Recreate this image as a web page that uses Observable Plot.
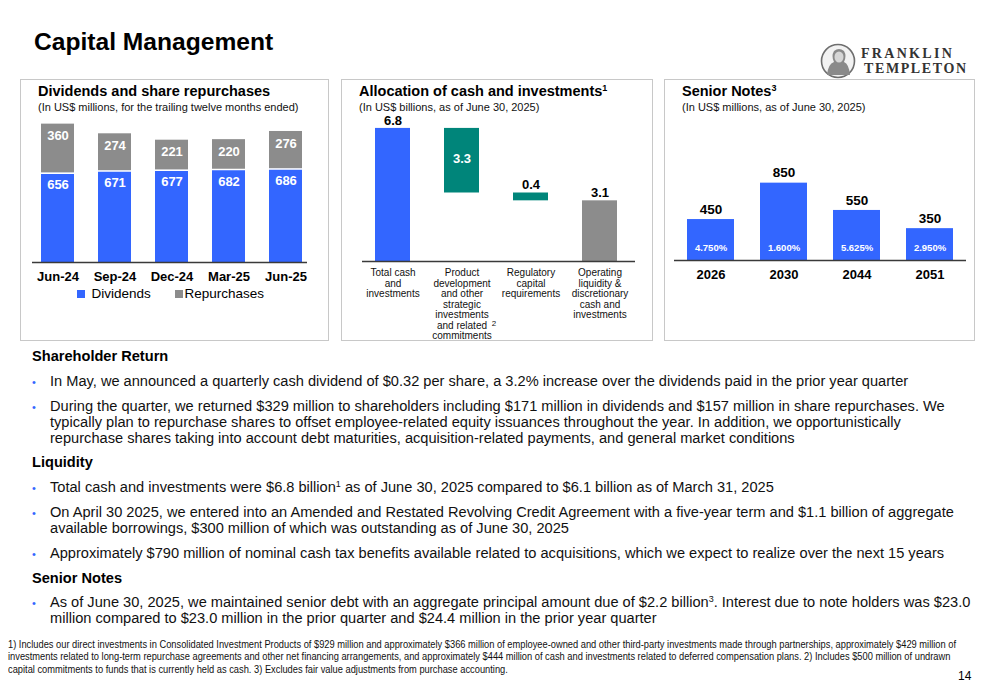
<!DOCTYPE html>
<html>
<head>
<meta charset="utf-8">
<script src="https://cdn.jsdelivr.net/npm/d3@7"></script>
<script src="https://cdn.jsdelivr.net/npm/@observablehq/plot@0.6"></script>
<style>
  html, body { margin: 0; padding: 0; background: #fff; }
  #page { position: relative; width: 1000px; height: 685px; overflow: hidden; font-family: "Liberation Sans", Arial, sans-serif; color: #000; }
  .abs { position: absolute; white-space: nowrap; }
  .panel { position: absolute; border: 1px solid #c8c8c8; box-sizing: border-box; }
  .ptitle { font-size: 14.5px; font-weight: bold; line-height: 14.5px; }
  .psub { font-size: 11px; line-height: 11px; color: #111; }
  .sup { font-size: 9px; vertical-align: 5px; line-height: 0; }
  .head { font-size: 14.6px; font-weight: bold; line-height: 15.8px; }
  .bul { font-size: 14.62px; line-height: 15.8px; color: #111; }
  .dot { position: absolute; color: #3366ff; font-size: 11px; }
  .foot { font-size: 10.4px; line-height: 12.5px; color: #111; transform-origin: 0 0; }
  .foot span { display: inline-block; }
  .chart { position: absolute; }
  .chart svg { overflow: visible; }
</style>
</head>
<body>
<div id="page">
  <div class="abs" style="left:34px; top:30px; font-size:24.6px; line-height:24.6px; font-weight:bold;">Capital Management</div>

  <!-- logo -->
  <svg class="abs" style="left:818px; top:42px;" width="160" height="40">
    <circle cx="20" cy="19" r="16.5" fill="#f2f2f2" stroke="#6e6e6e" stroke-width="1.6"/>
    <path d="M9,33 Q10,22 16,20 Q13,14 16,9 Q21,5 26,9 Q29,14 26,20 Q31,22 32,33 Z" fill="#8a8a8a"/>
    <ellipse cx="21" cy="15" rx="4.5" ry="5.5" fill="#d6d6d6"/>
    <text x="43" y="15.5" font-family="Liberation Serif, serif" font-weight="bold" font-size="14" fill="#333" letter-spacing="2.3">FRANKLIN</text>
    <text x="46" y="31" font-family="Liberation Serif, serif" font-weight="bold" font-size="14" fill="#333" letter-spacing="1.6">TEMPLETON</text>
  </svg>

  <!-- panels -->
  <div class="panel" style="left:20px; top:79px; width:309px; height:262px;"></div>
  <div class="panel" style="left:341px; top:79px; width:312px; height:262px;"></div>
  <div class="panel" style="left:664px; top:79px; width:311px; height:262px;"></div>

  <div class="abs ptitle" style="left:38px; top:83.7px;">Dividends and share repurchases</div>
  <div class="abs psub" style="left:38px; top:101.7px;">(In US$ millions, for the trailing twelve months ended)</div>

  <div class="abs ptitle" style="left:359px; top:83.7px;">Allocation of cash and investments<span class="sup">1</span></div>
  <div class="abs psub" style="left:359px; top:101.7px;">(In US$ billions, as of June 30, 2025)</div>

  <div class="abs ptitle" style="left:682px; top:83.7px;">Senior Notes<span class="sup">3</span></div>
  <div class="abs psub" style="left:682px; top:101.7px;">(In US$ millions, as of June 30, 2025)</div>

  <div id="c1" class="chart" style="left:22px; top:110px;"></div>
  <div id="c2" class="chart" style="left:341px; top:110px;"></div>
  <div id="c3" class="chart" style="left:664px; top:140px;"></div>

  <!-- legend chart 1 -->
  <div id="legend1"></div>

  <!-- body text -->
  <div class="abs head" style="left:32px; top:349.1px;">Shareholder Return</div>
  <div class="dot" style="left:32px; top:376px;">•</div>
  <div class="abs bul" style="left:50px; top:374.1px;">In May, we announced a quarterly cash dividend of $0.32 per share, a 3.2% increase over the dividends paid in the prior year quarter</div>
  <div class="dot" style="left:32px; top:401px;">•</div>
  <div class="abs bul" style="left:50px; top:399.1px;">During the quarter, we returned $329 million to shareholders including $171 million in dividends and $157 million in share repurchases. We<br>typically plan to repurchase shares to offset employee-related equity issuances throughout the year. In addition, we opportunistically<br>repurchase shares taking into account debt maturities, acquisition-related payments, and general market conditions</div>

  <div class="abs head" style="left:32px; top:455.1px;">Liquidity</div>
  <div class="dot" style="left:32px; top:482px;">•</div>
  <div class="abs bul" style="left:50px; top:480.1px;">Total cash and investments were $6.8 billion<span class="sup">1</span> as of June 30, 2025 compared to $6.1 billion as of March 31, 2025</div>
  <div class="dot" style="left:32px; top:507px;">•</div>
  <div class="abs bul" style="left:50px; top:505.1px;">On April 30 2025, we entered into an Amended and Restated Revolving Credit Agreement with a five-year term and $1.1 billion of aggregate<br>available borrowings, $300 million of which was outstanding as of June 30, 2025</div>
  <div class="dot" style="left:32px; top:548px;">•</div>
  <div class="abs bul" style="left:50px; top:546.1px;">Approximately $790 million of nominal cash tax benefits available related to acquisitions, which we expect to realize over the next 15 years</div>

  <div class="abs head" style="left:32px; top:571.1px;">Senior Notes</div>
  <div class="dot" style="left:32px; top:597px;">•</div>
  <div class="abs bul" style="left:50px; top:595.1px;">As of June 30, 2025, we maintained senior debt with an aggregate principal amount due of $2.2 billion<span class="sup">3</span>. Interest due to note holders was $23.0<br>million compared to $23.0 million in the prior quarter and $24.4 million in the prior year quarter</div>

  <div id="foot" class="abs foot" style="left:8px; top:638.6px;"><span id="foot1">1) Includes our direct investments in Consolidated Investment Products of $929 million and approximately $366 million of employee-owned and other third-party investments made through partnerships, approximately $429 million of</span><br><span>investments related to long-term repurchase agreements and other net financing arrangements, and approximately $444 million of cash and investments related to deferred compensation plans. 2) Includes $500 million of undrawn</span><br><span>capital commitments to funds that is currently held as cash. 3) Excludes fair value adjustments from purchase accounting.</span></div>
  <div class="abs" style="left:958px; top:669.8px; font-size:12px; line-height:12px;">14</div>
</div>

<script>
// ---------------- data ----------------
const divPeriods = ["Jun-24", "Sep-24", "Dec-24", "Mar-25", "Jun-25"];
const dividends = [656, 671, 677, 682, 686];
const repurchases = [360, 274, 221, 220, 276];
const divSeries = ["Dividends", "Repurchases"];

const allocCategories = [
  "Total cash\nand\ninvestments",
  "Product\ndevelopment\nand other\nstrategic\ninvestments\nand related\ncommitments",
  "Regulatory\ncapital\nrequirements",
  "Operating\nliquidity &\ndiscretionary\ncash and\ninvestments"
];
const allocValues = [6.8, 3.3, 0.4, 3.1];
const allocKinds = ["total", "step", "step", "total"];
const allocGroups = ["Total", "Allocated", "Allocated", "Remaining"];
const allocFootnoteMark = "2";

const noteYears = ["2026", "2030", "2044", "2051"];
const noteAmounts = [450, 850, 550, 350];
const noteRates = ["4.750%", "1.600%", "5.625%", "2.950%"];

// ---------------- styling ----------------
const BLUE = "#3366ff";
const GRAY = "#8c8c8c";
const TEAL = "#00857a";
const FONT = "Liberation Sans, Arial, sans-serif";
const AXIS = "#3a3a3a";

// condense footnote block to the slide width (narrow font look)
(function () {
  const f = document.getElementById("foot");
  const w = document.getElementById("foot1").getBoundingClientRect().width;
  const target = 948;
  if (w > 0) f.style.transform = `scaleX(${(target / w).toFixed(4)})`;
})();

// ---------------- chart 1 ----------------
const divRows = divPeriods.map((p, i) => ({period: p, series: divSeries[0], value: dividends[i]}));
const repRows = divPeriods.map((p, i) => ({period: p, series: divSeries[1], value: repurchases[i], total: dividends[i] + repurchases[i]}));

const c1 = Plot.plot({
  width: 306, height: 175,
  marginLeft: 10, marginRight: 21, marginTop: 9, marginBottom: 23,
  style: {fontFamily: FONT, overflow: "visible", background: "transparent"},
  x: {domain: divPeriods, paddingInner: 0.417, paddingOuter: 0.119, align: 0.66, label: null},
  y: {domain: [0, 1050], axis: null},
  color: {domain: divSeries, range: [BLUE, GRAY]},
  marks: [
    Plot.barY([...divRows, ...repRows], {x: "period", y: "value", fill: "series"}),
    Plot.tickY(divRows, {x: "period", y: "value", stroke: "white", strokeWidth: 1.5}),
    Plot.ruleY([0], {stroke: AXIS, strokeWidth: 1.5}),
    Plot.text(divRows, {x: "period", y: "value", text: d => String(d.value), dy: 12, fill: "white", fontWeight: "bold", fontSize: 13}),
    Plot.text(repRows, {x: "period", y: "total", text: d => String(d.value), dy: 12, fill: "white", fontWeight: "bold", fontSize: 13}),
    Plot.axisX({tickSize: 0, tickPadding: 9, fontSize: 13, fontWeight: "bold", fill: "#000", label: null})
  ]
});
document.getElementById("c1").append(c1);

// legend for chart 1
const legend = document.getElementById("legend1");
const legendItems = [
  {name: divSeries[0], color: BLUE, sx: 77, tx: 91.5},
  {name: divSeries[1], color: GRAY, sx: 175, tx: 184.5}
];
legendItems.forEach(it => {
  const sw = document.createElement("div");
  sw.style.cssText = `position:absolute;left:${it.sx}px;top:290px;width:7.5px;height:7.5px;background:${it.color};`;
  const tx = document.createElement("div");
  tx.className = "abs";
  tx.style.cssText = `left:${it.tx}px;top:286.6px;font-size:13.5px;line-height:13.5px;`;
  tx.textContent = it.name;
  legend.append(sw, tx);
});

// ---------------- chart 2 (waterfall) ----------------
let running = 0;
const allocRows = allocCategories.map((c, i) => {
  let y1, y2;
  if (allocKinds[i] === "total") { y1 = 0; y2 = allocValues[i]; running = allocValues[i]; }
  else { y2 = running; y1 = running - allocValues[i]; running = y1; }
  return {cat: c, value: allocValues[i], y1, y2, group: allocGroups[i], mid: (y1 + y2) / 2};
});
const insideRows = allocRows.filter(d => d.y2 - d.y1 > 2 && d.group === "Allocated");
const aboveRows = allocRows.filter(d => !insideRows.includes(d));

const c2 = Plot.plot({
  width: 311, height: 232,
  marginLeft: 21, marginRight: 17, marginTop: 14, marginBottom: 81,
  style: {fontFamily: FONT, overflow: "visible", background: "transparent"},
  x: {domain: allocCategories, paddingInner: 0.4977, paddingOuter: 0.208, align: 0.41, label: null},
  y: {domain: [0, 7], axis: null},
  color: {domain: ["Total", "Allocated", "Remaining"], range: [BLUE, TEAL, GRAY]},
  marks: [
    Plot.barY(allocRows, {x: "cat", y1: "y1", y2: "y2", fill: "group"}),
    Plot.ruleY([0], {stroke: AXIS, strokeWidth: 1.5}),
    Plot.text(aboveRows, {x: "cat", y: "y2", text: d => d.value.toFixed(1), dy: -8, fill: "#000", fontWeight: "bold", fontSize: 13}),
    Plot.text(insideRows, {x: "cat", y: "mid", text: d => d.value.toFixed(1), dy: -2, fill: "white", fontWeight: "bold", fontSize: 13}),
    Plot.axisX({tickSize: 0, tickPadding: 7.5, fontSize: 10, lineHeight: 1.05, fill: "#111", label: null}),
    Plot.text([{cat: allocCategories[1], v: 0}], {x: "cat", y: "v", text: () => allocFootnoteMark, dx: 32, dy: 62, fontSize: 8, fill: "#111"})
  ]
});
document.getElementById("c2").append(c2);

// ---------------- chart 3 ----------------
const noteRows = noteYears.map((y, i) => ({year: y, amount: noteAmounts[i], rate: noteRates[i]}));
const c3 = Plot.plot({
  width: 310, height: 145,
  marginLeft: 10, marginRight: 8, marginTop: 29, marginBottom: 25,
  style: {fontFamily: FONT, overflow: "visible", background: "transparent"},
  x: {domain: noteYears, paddingInner: 0.356, paddingOuter: 0.178, align: 0.5, label: null},
  y: {domain: [0, 1000], axis: null},
  marks: [
    Plot.barY(noteRows, {x: "year", y: "amount", fill: BLUE}),
    Plot.ruleY([0], {stroke: AXIS, strokeWidth: 1.5}),
    Plot.text(noteRows, {x: "year", y: "amount", text: d => String(d.amount), dy: -10, fill: "#000", fontWeight: "bold", fontSize: 13.5}),
    Plot.text(noteRows, {x: "year", y: () => 0, text: "rate", dy: -13, fill: "white", fontWeight: "bold", fontSize: 9.5}),
    Plot.axisX({tickSize: 0, tickPadding: 9, fontSize: 13, fontWeight: "bold", fill: "#000", label: null})
  ]
});
document.getElementById("c3").append(c3);
</script>
</body>
</html>
